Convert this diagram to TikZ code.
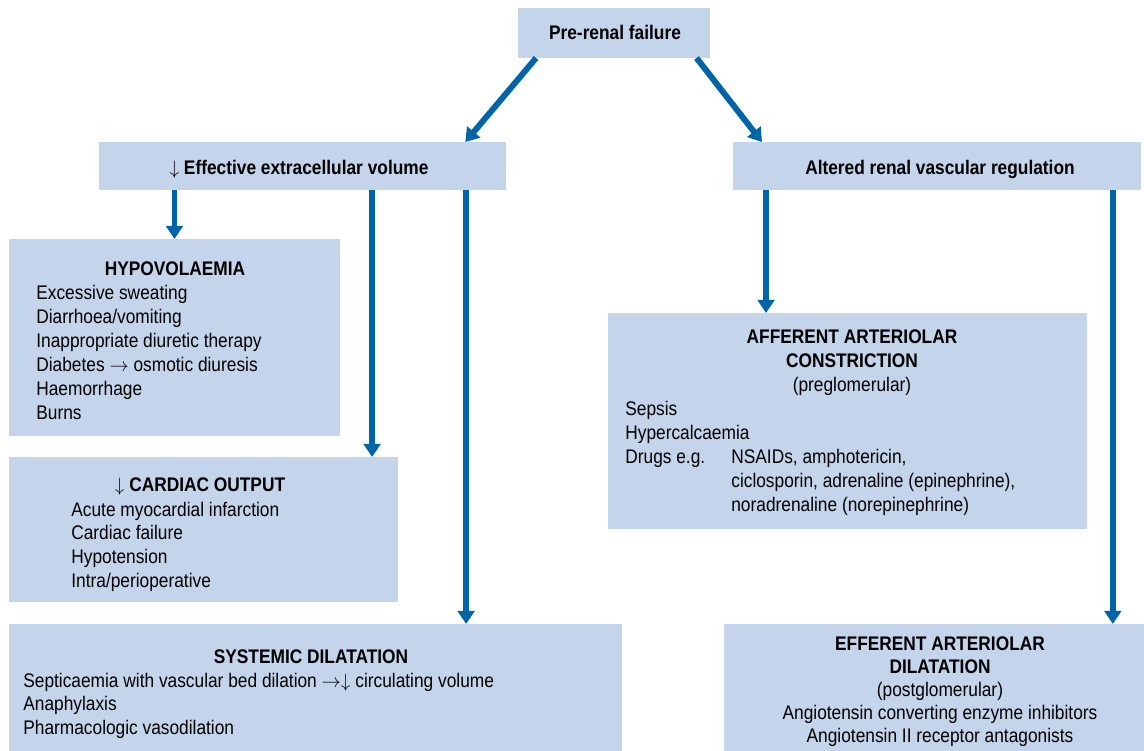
\documentclass[tikz,border=0pt]{standalone}
\usepackage{fontspec}
\setmainfont{Liberation Sans}[FakeStretch=0.88]
\usepackage{tikz}
\usetikzlibrary{arrows.meta,positioning,calc,fit}
\definecolor{boxblue}{RGB}{196,212,234}
\definecolor{flowblue}{RGB}{0,100,168}

\begin{document}
\begin{tikzpicture}[x=0.02cm,y=-0.02cm,
  box/.style={fill=boxblue,inner sep=0pt,outer sep=0pt},
  txt/.style={inner sep=0pt,font=\fontsize{11.2}{13.6}\selectfont},
  ttl/.style={inner sep=0pt,font=\fontsize{11.2}{13.6}\selectfont\bfseries},
  flow/.style={draw=flowblue,line width=3.4pt,-{Triangle[length=7.5pt,width=9.5pt]}}]
\useasboundingbox (0,0) rectangle (1144,751);
% boxes
\node[box,fit={(518,8)(710,58)}] (pre) {};
\node[box,fit={(99,142)(506,190)}] (ecv) {};
\node[box,fit={(733,142)(1141,190)}] (arv) {};
\node[box,fit={(9,239)(340,436)}] (hypo) {};
\node[box,fit={(9,457)(398,602)}] (card) {};
\node[box,fit={(9,624)(622,751)}] (sys) {};
\node[box,fit={(608,313)(1087,529)}] (aff) {};
\node[box,fit={(724,624)(1144,751)}] (eff) {};
% headings
\node[ttl,anchor=base] (pre-t) at (615,39) {Pre-renal failure};
\node[ttl,anchor=base] (ecv-t) at (299,174) {$\downarrow$ Effective extracellular volume};
\node[ttl,anchor=base] (arv-t) at (940,174) {Altered renal vascular regulation};
% left column
\node[ttl,anchor=base] (hypo-t) at (175,275) {HYPOVOLAEMIA};
\foreach \t [count=\i from 0] in {Excessive sweating,{Diarrhoea/vomiting},Inappropriate diuretic therapy,
    {Diabetes $\rightarrow$ osmotic diuresis},Haemorrhage,Burns}
  \node[txt,anchor=base west] (hypo-\i) at (36,299+24*\i) {\t};
\node[ttl,anchor=base] (card-t) at (200,491) {$\downarrow$ CARDIAC OUTPUT};
\foreach \t [count=\i from 0] in {Acute myocardial infarction,Cardiac failure,Hypotension,{Intra/perioperative}}
  \node[txt,anchor=base west] (card-\i) at (71,516+23.7*\i) {\t};
\node[ttl,anchor=base] (sys-t) at (311,663) {SYSTEMIC DILATATION};
\foreach \t [count=\i from 0] in {{Septicaemia with vascular bed dilation $\rightarrow\downarrow$ circulating volume},
    Anaphylaxis,Pharmacologic vasodilation}
  \node[txt,anchor=base west] (sys-\i) at (23,687+23.5*\i) {\t};
% right column
\node[ttl,anchor=base] (aff-t1) at (852,343) {AFFERENT ARTERIOLAR};
\node[ttl,anchor=base] (aff-t2) at (852,367) {CONSTRICTION};
\node[txt,anchor=base] (aff-t3) at (852,391) {(preglomerular)};
\foreach \t [count=\i from 0] in {Sepsis,Hypercalcaemia,Drugs e.g.}
  \node[txt,anchor=base west] (aff-\i) at (625,415+24*\i) {\t};
\foreach \t [count=\i from 0] in {{NSAIDs, amphotericin,},{ciclosporin, adrenaline (epinephrine),},
    noradrenaline (norepinephrine)}
  \node[txt,anchor=base west] (drug-\i) at (731,463+24*\i) {\t};
\node[ttl,anchor=base] (eff-t1) at (940,650) {EFFERENT ARTERIOLAR};
\node[ttl,anchor=base] (eff-t2) at (940,673) {DILATATION};
\node[txt,anchor=base] (eff-t3) at (940,696) {(postglomerular)};
\node[txt,anchor=base] (eff-1) at (940,719) {Angiotensin converting enzyme inhibitors};
\node[txt,anchor=base] (eff-2) at (940,742) {Angiotensin II receptor antagonists};
% arrows
\draw[flow] ($(pre.south west)!0.094!(pre.south east)$) -- ($(ecv.north west)!0.90!(ecv.north east)$);
\draw[flow] ($(pre.south west)!0.93!(pre.south east)$) -- ($(arv.north west)!0.071!(arv.north east)$);
\draw[flow] (ecv.south -| hypo.north) -- (hypo.north);
\draw[flow] ($(ecv.south west)!0.671!(ecv.south east)$) coordinate (e2) -- (e2 |- card.north);
\draw[flow] ($(ecv.south west)!0.902!(ecv.south east)$) coordinate (e3) -- (e3 |- sys.north);
\draw[flow] ($(arv.south west)!0.081!(arv.south east)$) coordinate (a1) -- (a1 |- aff.north);
\draw[flow] ($(arv.south west)!0.931!(arv.south east)$) coordinate (a2) -- (a2 |- eff.north);
\end{tikzpicture}
\end{document}
